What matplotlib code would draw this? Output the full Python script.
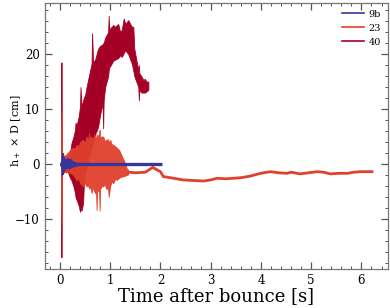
import matplotlib.pyplot as plt
from matplotlib.lines import Line2D

# 9b: blue, envelope of the signal
t_9b = [0.0, 0.02, 0.03, 0.04, 0.05, 0.06, 0.07, 0.09, 0.11, 0.14, 0.17, 0.20, 0.24, 0.28, 0.35, 2.02]
hi_9b = [0.0, 0.3, 1.0, 2.0, 1.5, 2.0, 1.2, 1.0, 0.8, 1.1, 0.8, 1.0, 0.6, 0.4, 0.2, 0.2]
lo_9b = [0.0, -0.3, -1.0, -2.0, -1.5, -1.8, -1.2, -1.0, -0.8, -0.7, -0.8, -0.7, -0.5, -0.4, -0.2, -0.2]

# 23: red, noisy band up to ~1.3 s then a slow tail
t_23 = [0.00, 0.02, 0.03, 0.04, 0.06, 0.10, 0.15, 0.20, 0.26, 0.30, 0.33, 0.37, 0.40, 0.46,
        0.50, 0.53, 0.56, 0.58, 0.60, 0.63, 0.65, 0.68, 0.72, 0.73, 0.74, 0.76, 0.78, 0.79,
        0.80, 0.83, 0.86, 0.89, 0.92, 0.96, 0.97, 1.00, 1.03, 1.06, 1.10, 1.13, 1.18, 1.23,
        1.28, 1.33, 1.36]
hi_23 = [0.0, 0.5, 9.5, 2.0, 1.5, 1.5, 2.0, 2.5, 3.0, 2.8, 3.5, 3.2, 4.0, 4.4,
         3.8, 5.0, 4.2, 5.6, 4.5, 5.0, 4.3, 5.3, 4.5, 5.5, 4.6, 5.2, 5.5, 6.2,
         4.8, 5.0, 5.0, 4.2, 4.4, 4.5, 3.8, 4.4, 3.6, 3.5, 3.2, 3.0, 2.5, 1.5,
         0.5, -0.8, -1.1]
lo_23 = [0.0, -0.5, -11.0, -2.0, -1.5, -1.5, -1.5, -1.6, -2.0, -2.4, -3.0, -2.6, -3.5, -4.1,
         -3.5, -4.1, -3.8, -4.5, -4.0, -5.3, -4.2, -5.0, -5.5, -8.4, -4.8, -5.0, -5.0, -8.5,
         -4.6, -4.0, -4.1, -3.6, -4.5, -4.5, -6.0, -4.0, -3.2, -3.5, -2.7, -2.9, -2.5, -2.3,
         -2.2, -2.0, -1.9]
t_23_tail = [1.36, 1.50, 1.70, 1.85, 1.90, 2.00, 2.06, 2.20, 2.45, 2.86, 3.00, 3.13, 3.30,
             3.45, 3.60, 3.79, 3.95, 4.05, 4.19, 4.35, 4.52, 4.60, 4.78, 4.95, 5.12, 5.25,
             5.38, 5.55, 5.72, 5.85, 5.98, 6.21]
h_23_tail = [-1.5, -1.6, -1.5, -0.6, -0.9, -1.4, -2.3, -2.5, -2.9, -3.1, -2.9, -2.6, -2.7,
             -2.6, -2.5, -2.2, -1.8, -1.6, -1.4, -1.6, -1.7, -1.5, -1.8, -1.6, -1.4, -1.5,
             -1.8, -1.7, -1.7, -1.5, -1.4, -1.4]

# 40: dark red, big rising band
t_40 = [0.00, 0.025, 0.03, 0.035, 0.045, 0.08, 0.12, 0.16, 0.20, 0.23, 0.27, 0.30, 0.31, 0.33,
        0.37, 0.40, 0.41, 0.43, 0.46, 0.48, 0.50, 0.53, 0.56, 0.60, 0.63, 0.64, 0.66, 0.70,
        0.73, 0.76, 0.80, 0.85, 0.86, 0.87, 0.90, 0.96, 0.97, 0.98, 1.03, 1.06, 1.10, 1.16,
        1.20, 1.23, 1.27, 1.30, 1.36, 1.40, 1.43, 1.46, 1.48, 1.52, 1.56, 1.57, 1.58, 1.62,
        1.66, 1.69, 1.72, 1.76]
hi_40 = [0.0, 0.5, 18.5, 3.0, 1.5, 1.5, 1.2, 1.5, 2.0, 3.8, 5.0, 6.2, 7.5, 7.0,
         8.5, 10.4, 14.0, 10.5, 11.5, 12.2, 12.5, 14.0, 15.3, 17.0, 18.3, 23.8, 18.5, 19.0,
         20.0, 21.0, 21.5, 21.8, 22.0, 22.0, 23.0, 24.0, 27.0, 24.5, 25.0, 25.3, 25.0, 25.5,
         24.0, 24.4, 26.5, 25.5, 26.2, 25.5, 25.0, 25.0, 21.0, 19.0, 17.0, 18.0, 16.5, 16.0,
         15.3, 15.5, 15.0, 15.0]
lo_40 = [0.0, -0.5, -17.0, -3.0, -1.5, -1.5, -1.2, -1.5, -2.5, -3.0, -4.1, -5.3, -6.0, -6.5,
         -7.5, -8.7, -8.0, -8.5, -7.2, -2.9, -1.5, -0.5, 0.5, 2.0, 3.0, 3.5, 4.0, 5.5,
         6.0, 6.8, 9.0, 11.0, 6.5, 11.5, 14.0, 16.0, 17.0, 17.5, 18.3, 18.8, 19.0, 19.3,
         19.8, 19.5, 20.2, 20.7, 20.0, 19.0, 18.3, 17.0, 16.0, 15.0, 14.0, 11.6, 13.5, 13.0,
         13.0, 13.0, 13.2, 13.5]

c_9b = "#34379a"
c_23 = "#e0402c"
c_40 = "#a50026"

plt.rcParams["font.family"] = "DejaVu Serif"
plt.rcParams["mathtext.fontset"] = "dejavuserif"

fig = plt.figure(figsize=(3.9, 3.08), dpi=100)
ax = fig.add_axes([0.115, 0.127, 0.88, 0.863])

ax.fill_between(t_40, lo_40, hi_40, color=c_40, lw=0.6, edgecolor=c_40)
ax.fill_between(t_23, lo_23, hi_23, color=c_23, lw=0.6, edgecolor=c_23, alpha=0.95)
ax.plot(t_23_tail, h_23_tail, color=c_23, lw=2.0)
ax.fill_between(t_9b, lo_9b, hi_9b, color=c_9b, lw=0.8, edgecolor=c_9b)

ax.set_xlim(-0.3, 6.53)
ax.set_ylim(-19.1, 29.3)
ax.set_xticks([0, 1, 2, 3, 4, 5, 6])
ax.set_yticks([-10, 0, 10, 20])
ax.set_xticks([x / 5 for x in range(-1, 33)], minor=True)
ax.set_yticks(list(range(-18, 30, 2)), minor=True)
ax.set_yticklabels(["\u221210", "0", "10", "20"])
ax.tick_params(which="both", direction="in", top=True, right=True, color="#555555",
               labelsize=8.5)
ax.tick_params(which="major", length=5, width=0.9)
ax.tick_params(which="minor", length=2.5, width=0.7)
for s in ax.spines.values():
    s.set_color("#777777")
    s.set_linewidth(0.9)

ax.set_xlabel("Time after bounce [s]", fontsize=13, labelpad=0)
ax.set_ylabel(r"h$_+$ $\times$ D [cm]", fontsize=8)
ax.yaxis.set_label_coords(-0.065, 0.52)

handles = [Line2D([], [], color=c_9b, lw=1.2),
           Line2D([], [], color=c_23, lw=1.2),
           Line2D([], [], color=c_40, lw=1.2)]
ax.legend(handles, ["9b", "23", "40"], loc="upper right", frameon=False, fontsize=7,
          handlelength=2.2, handletextpad=0.5, labelspacing=0.5, borderaxespad=0.3)

fig.savefig("out.png", dpi=100)
